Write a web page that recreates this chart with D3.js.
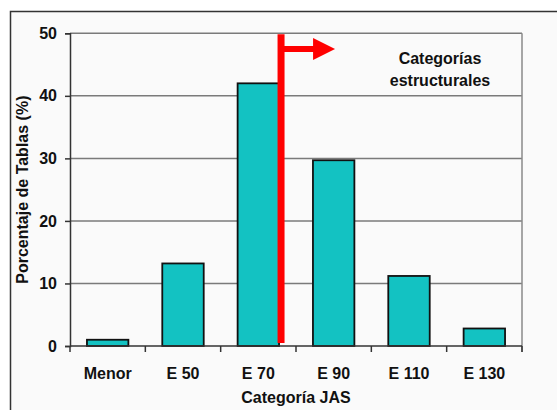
<!DOCTYPE html>
<html>
<head>
<meta charset="utf-8">
<script src="https://cdn.jsdelivr.net/npm/d3@7"></script>
<style>
  html, body { margin: 0; padding: 0; background: #ffffff; }
  svg { display: block; }
  text { font-family: "Liberation Sans", Arial, sans-serif; font-weight: bold; fill: #111; }
</style>
</head>
<body>
<svg id="chart" width="557" height="410"></svg>
<script>
// Share of tables per JAS category (%)
const categories = ["Menor", "E 50", "E 70", "E 90", "E 110", "E 130"];
const values = [1.0, 13.2, 42.0, 29.7, 11.2, 2.8];
const yTicks = [0, 10, 20, 30, 40, 50];

const svg = d3.select("#chart");
const margin = { left: 70, right: 35, top: 33.3, bottom: 64 };
const W = 557, H = 410;
const x0 = margin.left, x1 = W - margin.right;
const y0 = H - margin.bottom, y1 = margin.top;

// chart frame
svg.append("rect")
  .attr("x", 10.5).attr("y", 11.5)
  .attr("width", 700).attr("height", 600)
  .attr("fill", "#fafafa")
  .attr("stroke", "#333").attr("stroke-width", 1.5);

const x = d3.scaleBand()
  .domain(categories)
  .range([x0, x1])
  .paddingInner(0.45)
  .paddingOuter(0.225);

const y = d3.scaleLinear().domain([0, 50]).range([y0, y1]);

// horizontal gridlines
svg.append("g")
  .selectAll("line")
  .data(yTicks.filter(t => t > 0))
  .join("line")
  .attr("x1", x0).attr("x2", x1)
  .attr("y1", d => y(d)).attr("y2", d => y(d))
  .attr("stroke", "#7a7a7a").attr("stroke-width", 1.5);

// right edge of plot area
svg.append("line")
  .attr("x1", x1).attr("x2", x1)
  .attr("y1", y(50)).attr("y2", y0 + 6)
  .attr("stroke", "#8a8a8a").attr("stroke-width", 1.5);

// bars
svg.append("g")
  .selectAll("rect")
  .data(categories.map((c, i) => ({ c, v: values[i] })))
  .join("rect")
  .attr("x", d => x(d.c))
  .attr("y", d => y(d.v))
  .attr("width", x.bandwidth())
  .attr("height", d => y(0) - y(d.v))
  .attr("fill", "#13c2c2")
  .attr("stroke", "#111")
  .attr("stroke-width", 1.8);

// y axis
const yAxis = d3.axisLeft(y).tickValues(yTicks).tickSize(5).tickPadding(8);
const gy = svg.append("g").attr("transform", `translate(${x0},0)`).call(yAxis);
gy.select(".domain").attr("stroke", "#333").attr("stroke-width", 1.5);
gy.selectAll(".tick line").attr("stroke", "#333").attr("stroke-width", 1.5);
gy.selectAll(".tick text")
  .attr("font-size", 16).attr("font-family", "Liberation Sans, Arial, sans-serif")
  .attr("font-weight", "bold").attr("fill", "#111");

// x axis with ticks on category boundaries
const gx = svg.append("g").attr("transform", `translate(0,${y0})`);
gx.append("line")
  .attr("x1", x0).attr("x2", x1)
  .attr("stroke", "#333").attr("stroke-width", 1.5);
const bounds = d3.range(categories.length + 1).map(i => x0 + i * x.step());
gx.selectAll(".bt")
  .data(bounds)
  .join("line")
  .attr("class", "bt")
  .attr("x1", d => d).attr("x2", d => d)
  .attr("y1", 0).attr("y2", 6)
  .attr("stroke", "#333").attr("stroke-width", 1.5);
gx.selectAll("text")
  .data(categories)
  .join("text")
  .attr("x", d => x(d) + x.bandwidth() / 2)
  .attr("y", 33)
  .attr("text-anchor", "middle")
  .attr("font-size", 16)
  .text(d => d);

// axis titles
svg.append("text")
  .attr("x", (x0 + x1) / 2).attr("y", 403)
  .attr("text-anchor", "middle")
  .attr("font-size", 16)
  .text("Categoría JAS");

svg.append("text")
  .attr("transform", `translate(28,${(y0 + y1) / 2}) rotate(-90)`)
  .attr("text-anchor", "middle")
  .attr("font-size", 16)
  .text("Porcentaje de Tablas (%)");

// structural categories marker, just right of the E 70 bar
const mx = x("E 70") + x.bandwidth() + 2;
svg.append("line")
  .attr("x1", mx).attr("x2", mx)
  .attr("y1", y(50) + 1).attr("y2", y(0) - 3)
  .attr("stroke", "#ff0000").attr("stroke-width", 7);
const ay = y(47.5);
svg.append("line")
  .attr("x1", mx).attr("x2", mx + 33)
  .attr("y1", ay).attr("y2", ay)
  .attr("stroke", "#ff0000").attr("stroke-width", 6);
svg.append("path")
  .attr("d", `M${mx + 32},${ay - 11} L${mx + 54},${ay} L${mx + 32},${ay + 11} Z`)
  .attr("fill", "#ff0000");

svg.append("text")
  .attr("x", 440).attr("y", 64)
  .attr("text-anchor", "middle")
  .attr("font-size", 16)
  .text("Categorías");
svg.append("text")
  .attr("x", 440).attr("y", 86)
  .attr("text-anchor", "middle")
  .attr("font-size", 16)
  .text("estructurales");
</script>
</body>
</html>
